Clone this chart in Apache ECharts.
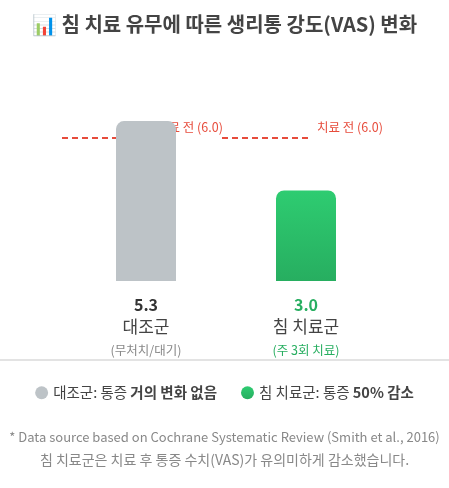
<!DOCTYPE html>
<html>
<head>
<meta charset="utf-8">
<script src="https://cdn.jsdelivr.net/npm/echarts@6/dist/echarts.min.js"></script>
<style>
  html, body { margin: 0; padding: 0; background: #fff; }
  #main { width: 449px; height: 488px; }
</style>
</head>
<body>
<div id="main"></div>
<script>
var groups = ['대조군', '침 치료군'];
var subLabels = ['(무처치/대기)', '(주 3회 치료)'];
var afterVas = [5.3, 3.0];
var beforeVas = [6.0, 6.0];
var legendPlain = ['대조군: 통증 ', '침 치료군: 통증 '];
var legendBold = ['거의 변화 없음', '50% 감소'];
var notes = [
    '* Data source based on Cochrane Systematic Review (Smith et al., 2016)',
    '침 치료군은 치료 후 통증 수치(VAS)가 유의미하게 감소했습니다.'
];

var font = "'Noto Sans CJK KR', 'Noto Sans', sans-serif";
var myChart = echarts.init(document.getElementById('main'));

var green = new echarts.graphic.LinearGradient(0, 0, 0, 1, [
    {offset: 0, color: '#2ecc71'},
    {offset: 1, color: '#27ae60'}
]);

option = {
    animation: false,
    textStyle: { fontFamily: font },
    title: {
        text: '📊 침 치료 유무에 따른 생리통 강도(VAS) 변화',
        left: 'center',
        top: 9,
        textStyle: { fontSize: 20, fontWeight: 'bold', color: '#444', fontFamily: font }
    },
    grid: { left: 66, right: 63, top: 100, bottom: 207 },
    legend: {
        bottom: 83,
        left: 'center',
        icon: 'circle',
        itemWidth: 13,
        itemHeight: 13,
        itemGap: 24,
        data: groups,
        formatter: function (name) {
            var i = groups.indexOf(name);
            return '{a|' + legendPlain[i] + '}{b|' + legendBold[i] + '}';
        },
        textStyle: {
            fontFamily: font,
            rich: {
                a: { fontSize: 14.5, color: '#444', fontFamily: font },
                b: { fontSize: 14.5, color: '#444', fontWeight: 'bold', fontFamily: font }
            }
        }
    },
    xAxis: {
        type: 'category',
        data: groups,
        axisLine: { show: false },
        axisTick: { show: false },
        axisLabel: {
            margin: 14,
            interval: 0,
            formatter: function (value, idx) {
                var s = idx === 1 ? 'g' : 'k';
                return '{v' + s + '|' + afterVas[idx].toFixed(1) + '}\n{n|' + value + '}\n{s' + s + '|' + subLabels[idx] + '}';
            },
            rich: {
                vk: { fontSize: 16, fontWeight: 'bold', color: '#333', lineHeight: 20, fontFamily: font },
                vg: { fontSize: 16, fontWeight: 'bold', color: '#27ae60', lineHeight: 20, fontFamily: font },
                n: { fontSize: 17, color: '#444', lineHeight: 24, fontFamily: font },
                sk: { fontSize: 12.5, color: '#888', lineHeight: 22, fontFamily: font },
                sg: { fontSize: 12.5, color: '#27ae60', lineHeight: 22, fontFamily: font }
            }
        }
    },
    yAxis: [
        { type: 'value', min: 0, max: 6, show: false, splitLine: { show: false } },
        { type: 'value', min: 0, max: 7.6, show: false, splitLine: { show: false } }
    ],
    series: [
        {
            name: groups[0],
            type: 'bar',
            z: 3,
            barWidth: 60,
            barGap: '-100%',
            itemStyle: { color: '#bdc3c7', borderRadius: [8, 8, 0, 0] },
            data: [afterVas[0], '-']
        },
        {
            name: groups[1],
            type: 'bar',
            z: 3,
            barWidth: 60,
            barGap: '-100%',
            itemStyle: { color: green, borderRadius: [8, 8, 0, 0] },
            data: ['-', afterVas[1]]
        },
        {
            //치료 전 기준선
            name: '치료 전',
            type: 'custom',
            yAxisIndex: 1,
            z: 1,
            silent: true,
            data: beforeVas.map(function (v, i) { return [i, v]; }),
            renderItem: function (params, api) {
                var p = api.coord([api.value(0), api.value(1)]);
                return {
                    type: 'group',
                    children: [
                        {
                            type: 'line',
                            shape: { x1: p[0] - 84, y1: p[1], x2: p[0] + 3, y2: p[1] },
                            style: { stroke: '#e74c3c', lineWidth: 2, lineDash: [6, 4] }
                        },
                        {
                            type: 'text',
                            x: p[0] + 11,
                            y: p[1] - 11,
                            style: {
                                text: '치료 전 (' + api.value(1).toFixed(1) + ')',
                                fill: '#e74c3c',
                                fontSize: 12.5,
                                fontFamily: font,
                                align: 'left',
                                verticalAlign: 'middle'
                            }
                        }
                    ]
                };
            }
        }
    ],
    graphic: [
        {
            type: 'rect',
            left: 0,
            top: 359,
            shape: { width: 449, height: 2 },
            style: { fill: '#e3e3e3' }
        },
        {
            type: 'text',
            left: 'center',
            top: 431,
            style: { text: notes[0], fontSize: 13, fill: '#888', fontFamily: font }
        },
        {
            type: 'text',
            left: 'center',
            top: 453,
            style: { text: notes[1], fontSize: 14, fill: '#888', fontFamily: font }
        }
    ]
};
myChart.setOption(option);
</script>
</body>
</html>
